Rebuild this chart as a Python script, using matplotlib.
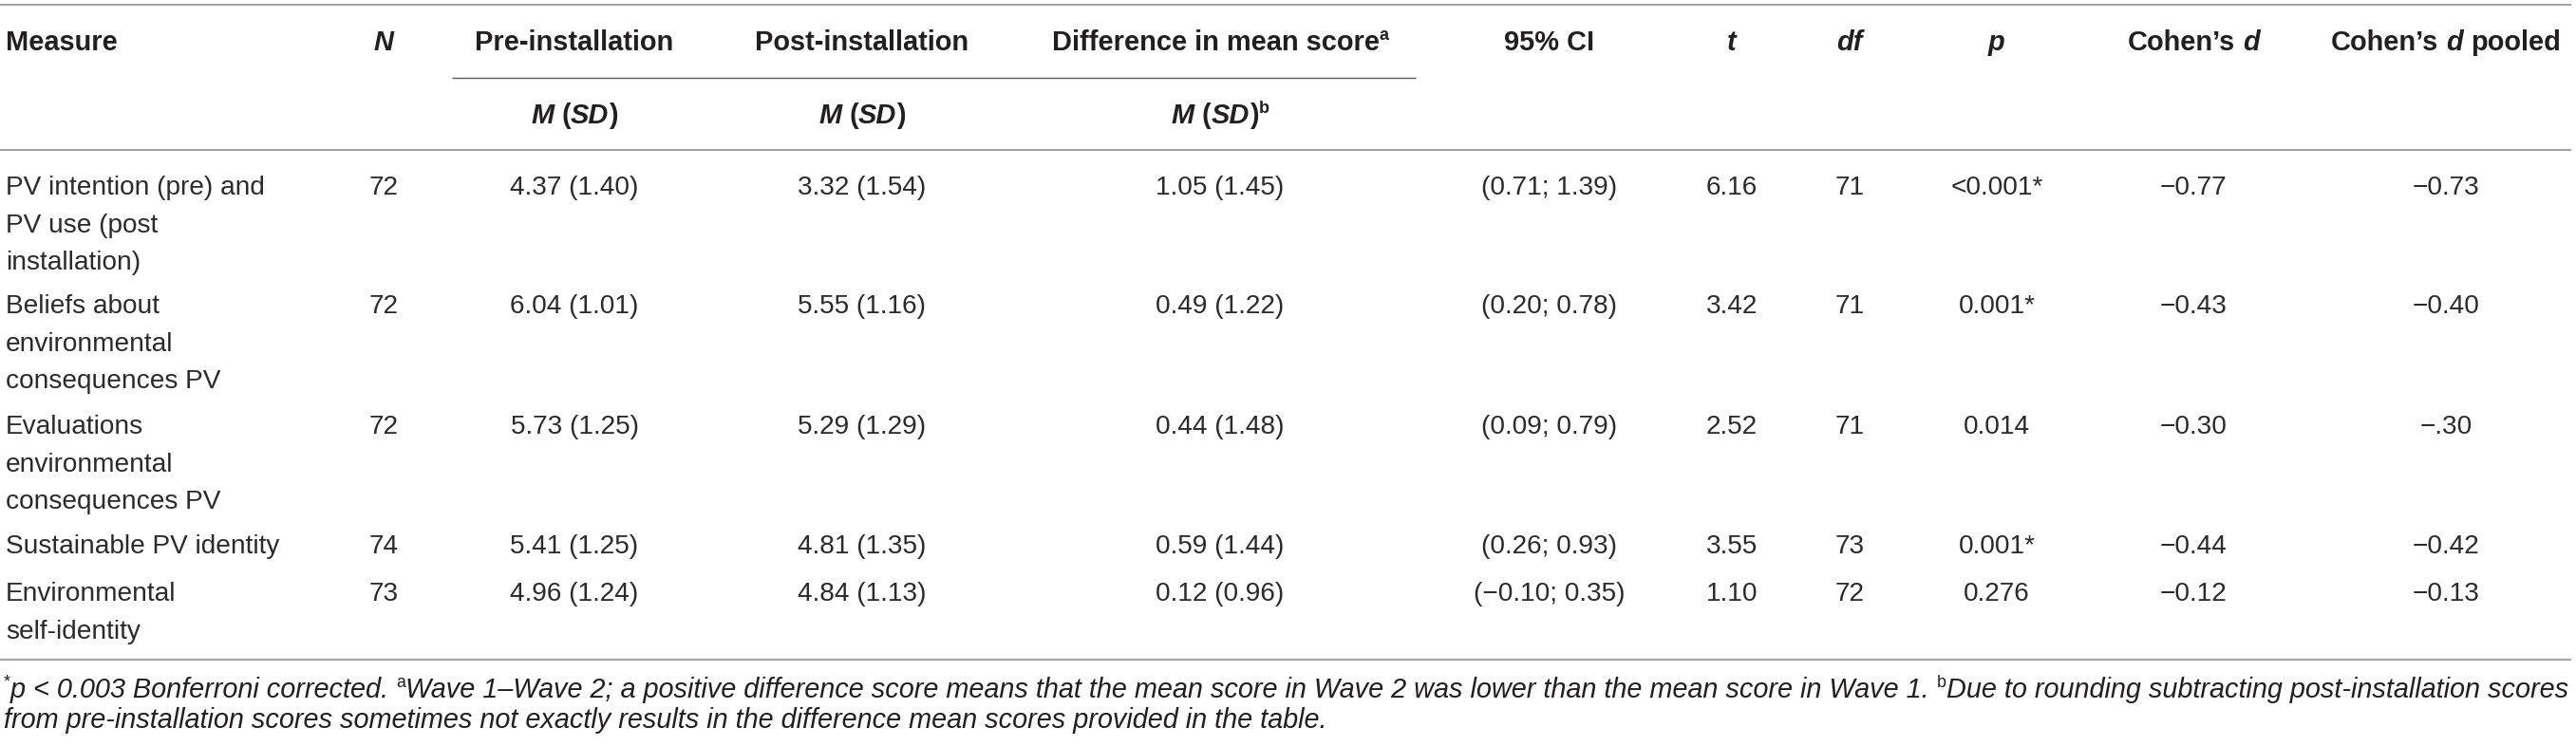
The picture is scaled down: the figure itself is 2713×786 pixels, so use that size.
import matplotlib
matplotlib.use("Agg")
import matplotlib.pyplot as plt
from matplotlib.transforms import IdentityTransform
from matplotlib.lines import Line2D

# ---------------- data ----------------
measures = [
    "PV intention (pre) and\nPV use (post\ninstallation)",
    "Beliefs about\nenvironmental\nconsequences PV",
    "Evaluations\nenvironmental\nconsequences PV",
    "Sustainable PV identity",
    "Environmental\nself-identity",
]
n_vals = [72, 72, 72, 74, 73]
pre_m = [4.37, 6.04, 5.73, 5.41, 4.96]
pre_sd = [1.40, 1.01, 1.25, 1.25, 1.24]
post_m = [3.32, 5.55, 5.29, 4.81, 4.84]
post_sd = [1.54, 1.16, 1.29, 1.35, 1.13]
diff_m = [1.05, 0.49, 0.44, 0.59, 0.12]
diff_sd = [1.45, 1.22, 1.48, 1.44, 0.96]
ci_lo = [0.71, 0.20, 0.09, 0.26, -0.10]
ci_hi = [1.39, 0.78, 0.79, 0.93, 0.35]
t_vals = [6.16, 3.42, 2.52, 3.55, 1.10]
df_vals = [71, 71, 71, 73, 72]
p_vals = ["<0.001*", "0.001*", "0.014", "0.001*", "0.276"]
cohen_d = ["\u22120.77", "\u22120.43", "\u22120.30", "\u22120.44", "\u22120.12"]
cohen_d_pooled = ["\u22120.73", "\u22120.40", "\u2212.30", "\u22120.42", "\u22120.13"]

footnote_line1 = [
    ("*", "sup"), ("p", "it"), (" < 0.003 Bonferroni corrected. ", "it"), ("a", "sup"),
    ("Wave 1\u2013Wave 2; a positive difference score means that the mean score in Wave 2 "
     "was lower than the mean score in Wave 1. ", "it"), ("b", "sup"),
    ("Due to rounding subtracting post-installation scores", "it"),
]
footnote_line2 = [
    ("from pre-installation scores sometimes not exactly results in the difference "
     "mean scores provided in the table.", "it"),
]

# ---------------- layout ----------------
W, H = 2713, 786
FONT = ["Liberation Sans", "DejaVu Sans"]
HEAD_SIZE = 20.9
DATA_SIZE = 20.2
TEXT_C = "#231f20"
DATA_C = "#2b2b2b"
LINE_C = "#9a9a9a"
SUBLINE_C = "#5a5a5a"

col_x = {"N": 404, "pre": 605, "post": 908, "diff": 1285, "ci": 1632,
         "t": 1824, "df": 1948, "p": 2103, "d": 2310, "dp": 2576}
row_y = [195, 320, 447, 573, 623]
line_pitch = 39.5

fig = plt.figure(figsize=(W / 100, H / 100), dpi=100)
fig.patch.set_facecolor("white")
renderer = fig.canvas.get_renderer()
IT = IdentityTransform()

_cache = {}


def raw_width(text, size, weight, style):
    key = (text, size, weight, style)
    if key not in _cache:
        t = fig.text(0, 0, text, fontsize=size, fontweight=weight, fontstyle=style,
                     family=FONT, transform=IT)
        _cache[key] = t.get_window_extent(renderer).width
        t.remove()
    return _cache[key]


def text_width(text, size, weight, style):
    if text == "":
        return 0.0
    return (raw_width("|" + text + "|", size, weight, style)
            - raw_width("||", size, weight, style))


def run_props(kind, size, bold):
    weight = "bold" if bold else "normal"
    if kind == "sup":
        return size * 0.62, weight, "normal", True
    if kind == "it":
        return size, weight, "italic", False
    return size, weight, "normal", False


def draw_runs(x, y, runs, size, bold=False, ha="left", color=TEXT_C):
    props = [run_props(k, size, bold) for _, k in runs]
    widths = [text_width(txt, s, w, st) for (txt, _), (s, w, st, _) in zip(runs, props)]
    total = sum(widths)
    if ha == "center":
        x0 = x - total / 2
    elif ha == "right":
        x0 = x - total
    else:
        x0 = x
    em = size * 100 / 72
    base = H - (y + 0.358 * em)
    for (txt, _), (s, w, st, sup), wd in zip(runs, props, widths):
        stripped = txt.lstrip(" ")
        lead = len(txt) - len(stripped)
        off = text_width(" " * lead, s, w, st) if lead else 0.0
        if stripped.strip():
            fig.text(x0 + off, base + (0.40 * em if sup else 0), stripped.rstrip(" "),
                     fontsize=s, fontweight=w, fontstyle=st, family=FONT, color=color,
                     transform=IT, ha="left", va="baseline")
        x0 += wd
    return total


def hline(x0, x1, y, color=LINE_C, lw=1.3):
    fig.add_artist(Line2D([x0, x1], [H - y, H - y], transform=IT, color=color,
                          linewidth=lw, solid_capstyle="butt"))


# ---------------- rules ----------------
hline(0, 2708, 5)
hline(476, 1491, 82, color=SUBLINE_C, lw=1.0)
hline(0, 2708, 158)
hline(0, 2708, 695)

# ---------------- header ----------------
hy = 43
draw_runs(6, hy, [("Measure", "n")], HEAD_SIZE, bold=True)
draw_runs(col_x["N"], hy, [("N", "it")], HEAD_SIZE, bold=True, ha="center")
draw_runs(col_x["pre"], hy, [("Pre-installation", "n")], HEAD_SIZE, bold=True, ha="center")
draw_runs(col_x["post"], hy, [("Post-installation", "n")], HEAD_SIZE, bold=True, ha="center")
draw_runs(col_x["diff"], hy, [("Difference in mean score", "n"), ("a", "sup")], HEAD_SIZE,
          bold=True, ha="center")
draw_runs(col_x["ci"], hy, [("95% CI", "n")], HEAD_SIZE, bold=True, ha="center")
draw_runs(col_x["t"], hy, [("t", "it")], HEAD_SIZE, bold=True, ha="center")
draw_runs(col_x["df"], hy, [("df", "it")], HEAD_SIZE, bold=True, ha="center")
draw_runs(col_x["p"], hy, [("p", "it")], HEAD_SIZE, bold=True, ha="center")
draw_runs(col_x["d"], hy, [("Cohen\u2019s ", "n"), ("d", "it")], HEAD_SIZE, bold=True, ha="center")
draw_runs(col_x["dp"], hy, [("Cohen\u2019s ", "n"), ("d", "it"), (" pooled", "n")], HEAD_SIZE,
          bold=True, ha="center")

sy = 120
msd = [("M", "it"), (" (", "n"), ("SD", "it"), (")", "n")]
draw_runs(col_x["pre"], sy, msd, HEAD_SIZE, bold=True, ha="center")
draw_runs(col_x["post"], sy, msd, HEAD_SIZE, bold=True, ha="center")
draw_runs(col_x["diff"], sy, msd + [("b", "sup")], HEAD_SIZE, bold=True, ha="center")


# ---------------- body ----------------
def fmt(v):
    s = f"{v:.2f}"
    return s.replace("-", "\u2212")


for i, y in enumerate(row_y):
    for j, line in enumerate(measures[i].split("\n")):
        draw_runs(6, y + j * line_pitch, [(line, "n")], DATA_SIZE, color=DATA_C)
    cells = {
        "N": str(n_vals[i]),
        "pre": f"{fmt(pre_m[i])} ({fmt(pre_sd[i])})",
        "post": f"{fmt(post_m[i])} ({fmt(post_sd[i])})",
        "diff": f"{fmt(diff_m[i])} ({fmt(diff_sd[i])})",
        "ci": f"({fmt(ci_lo[i])}; {fmt(ci_hi[i])})",
        "t": fmt(t_vals[i]),
        "df": str(df_vals[i]),
        "p": p_vals[i],
        "d": cohen_d[i],
        "dp": cohen_d_pooled[i],
    }
    for key, txt in cells.items():
        draw_runs(col_x[key], y, [(txt, "n")], DATA_SIZE, ha="center", color=DATA_C)

# ---------------- footnote ----------------
probe = 20.0
w1 = 0.0
for txt, k in footnote_line1:
    s, wt, st, _ = run_props(k, probe, False)
    w1 += text_width(txt, s, wt, st)
fsize = probe * 2700 / w1
draw_runs(4, 725, footnote_line1, fsize, color=TEXT_C)
draw_runs(4, 757, footnote_line2, fsize, color=TEXT_C)

fig.savefig("out.png", dpi=100, facecolor="white")
